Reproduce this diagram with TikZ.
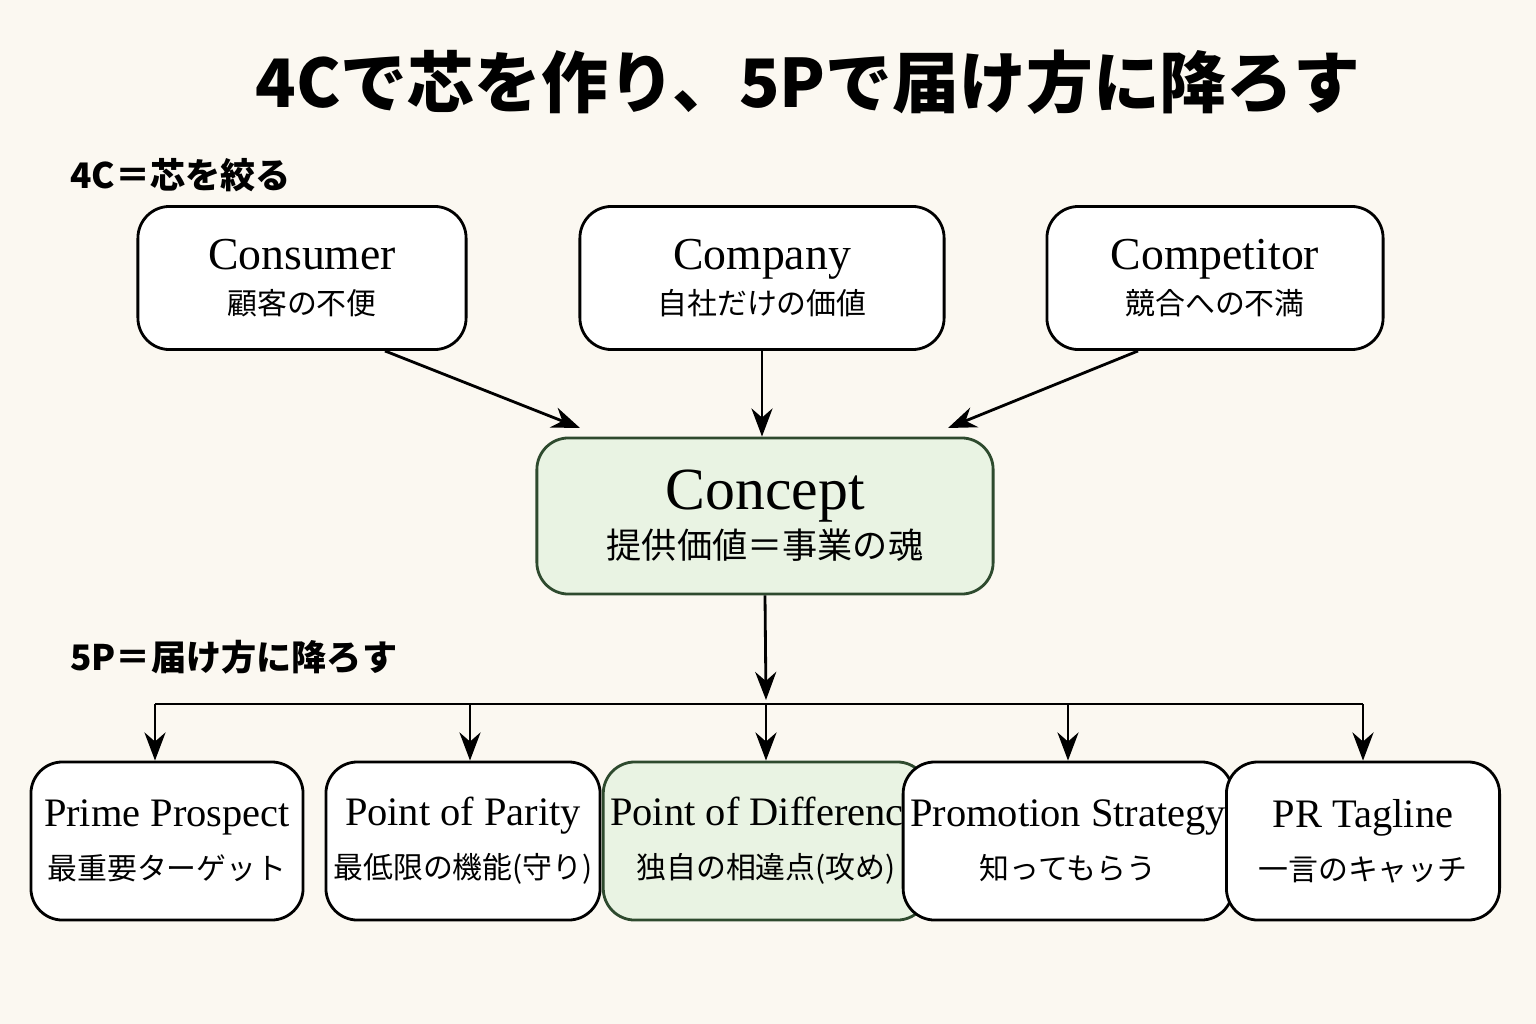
\documentclass[tikz,border=0pt]{standalone}
\usepackage{fontspec}
\setmainfont{Liberation Serif}
\newfontfamily\jp{Noto Sans CJK JP}
\usetikzlibrary{calc, arrows.meta, positioning}
\definecolor{paper}{HTML}{FBF8F1}
\definecolor{conceptfill}{HTML}{E9F3E3}
\definecolor{conceptline}{HTML}{2E4A2E}

\begin{document}
\begin{tikzpicture}[x=0.01cm, y=-0.01cm, >={Stealth[length=8pt,width=6pt]},
    box/.style={draw, thick, rounded corners=9pt, fill=white, align=center,
        minimum height=1.5cm, inner sep=2pt},
    keybox/.style={box, fill=conceptfill, draw=conceptline},
    arr/.style={->, thick}]
    % background and bounds
    \fill[paper] (0,0) rectangle (1536,1024);
    \useasboundingbox (0,0) rectangle (1536,1024);
    % title and section labels
    \node (title) at (808,82) {\jp\bfseries\fontsize{19}{22}\selectfont 4Cで芯を作り、5Pで届け方に降ろす};
    \node[anchor=west] (label4c) at (58,175) {\jp\bfseries\fontsize{10}{12}\selectfont 4C＝芯を絞る};
    \node[anchor=west] (label5p) at (58,657) {\jp\bfseries\fontsize{10}{12}\selectfont 5P＝届け方に降ろす};
    % 4C row
    \node[box, minimum width=3.28cm, minimum height=1.43cm] (consumer) at (302,278)
        {{\fontsize{13}{15}\selectfont Consumer}\\[1pt]{\jp\fontsize{8.5}{10}\selectfont 顧客の不便}};
    \node[box, minimum width=3.64cm, minimum height=1.43cm] (company) at (762,278)
        {{\fontsize{13}{15}\selectfont Company}\\[1pt]{\jp\fontsize{8.5}{10}\selectfont 自社だけの価値}};
    \node[box, minimum width=3.36cm, minimum height=1.43cm] (competitor) at (1215,278)
        {{\fontsize{13}{15}\selectfont Competitor}\\[1pt]{\jp\fontsize{8.5}{10}\selectfont 競合への不満}};
    % core
    \node[keybox, minimum width=4.56cm, minimum height=1.56cm] (concept) at (765,516)
        {{\fontsize{17}{20}\selectfont Concept}\\[1pt]{\jp\fontsize{10}{12}\selectfont 提供価値＝事業の魂}};
    % 5P row
    \node[box, minimum width=2.72cm, minimum height=1.58cm] (prime) at (167,841)
        {{\fontsize{11.5}{14}\selectfont Prime Prospect}\\[3pt]{\jp\fontsize{8.5}{10}\selectfont 最重要ターゲット}};
    \node[box, minimum width=2.74cm, minimum height=1.58cm] (parity) at (463,841)
        {{\fontsize{11.5}{14}\selectfont Point of Parity}\\[3pt]{\jp\fontsize{8.5}{10}\selectfont 最低限の機能(守り)}};
    \node[keybox, minimum width=2.88cm, minimum height=1.58cm] (diff) at (766,841)
        {{\fontsize{11.5}{14}\selectfont Point of Difference}\\[3pt]{\jp\fontsize{8.5}{10}\selectfont 独自の相違点(攻め)}};
    \node[box, minimum width=2.70cm, minimum height=1.58cm] (promo) at (1068,841)
        {{\fontsize{11.5}{14}\selectfont Promotion Strategy}\\[3pt]{\jp\fontsize{8.5}{10}\selectfont 知ってもらう}};
    \node[box, minimum width=2.73cm, minimum height=1.58cm] (tagline) at (1363,841)
        {{\fontsize{11.5}{14}\selectfont PR Tagline}\\[3pt]{\jp\fontsize{8.5}{10}\selectfont 一言のキャッチ}};
    % 4C into concept
    \coordinate (inleft) at (580,428);
    \coordinate (inright) at (948,428);
    \draw[arr] ($(consumer.south)+(83,0)$) -- (inleft);
    \draw[arr] (company.south) -- (concept.north -| company.south);
    \draw[arr] ($(competitor.south)+(-77,0)$) -- (inright);
    % concept down to the bus
    \coordinate (hub) at (766,704);
    \draw[arr] (concept.south) -- ($(hub)+(0,-4)$);
    \draw[thick] (155,704) -- (1363,704);
    \foreach \x/\n in {155/prime, 470/parity, 766/diff, 1068/promo, 1363/tagline}{
        \coordinate (bus-\n) at (\x,704);
        \draw[arr] (bus-\n) -- (bus-\n |- \n.north);
    }
\end{tikzpicture}
\end{document}
